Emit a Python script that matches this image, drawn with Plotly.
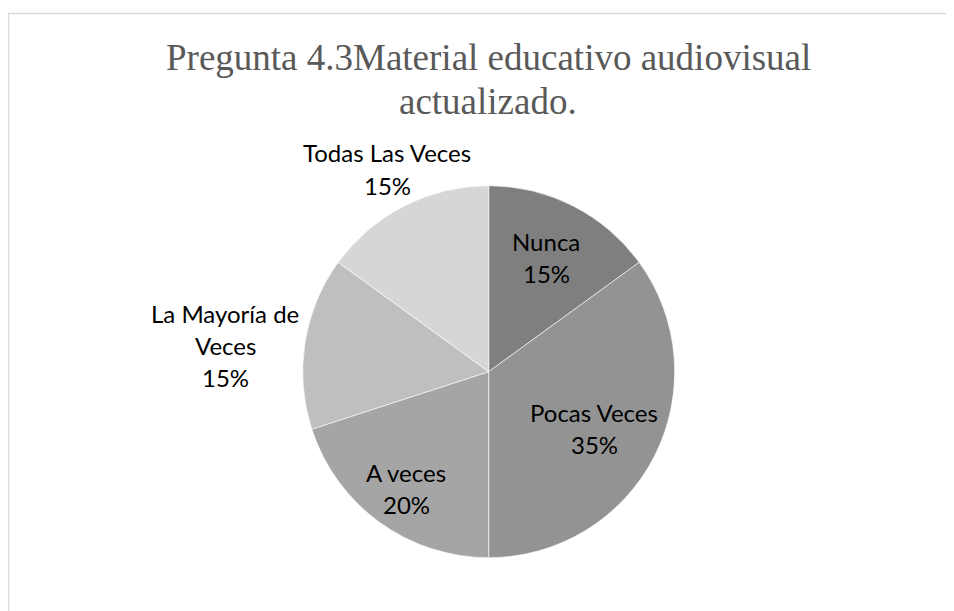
import plotly.graph_objects as go

categories = ["Nunca", "Pocas Veces", "A veces", "La Mayoría de Veces", "Todas Las Veces"]
values = [15, 35, 20, 15, 15]
colors = ["#7f7f7f", "#939393", "#a5a5a5", "#bfbfbf", "#d6d6d6"]
label_lines = [["Nunca"], ["Pocas Veces"], ["A veces"], ["La Mayoría de", "Veces"], ["Todas Las Veces"]]
title_lines = ["Pregunta 4.3Material educativo audiovisual", "actualizado."]

W, H = 954, 611
OFF = 8  # page body margin offset


def px_x(x):
    return (x - OFF) / W


def px_y(y):
    return 1 - (y - OFF) / H


fig = go.Figure(go.Pie(
    labels=categories,
    values=values,
    sort=False,
    direction="clockwise",
    rotation=0,
    marker=dict(colors=colors, line=dict(color="#ffffff", width=0.6)),
    textinfo="none",
    hoverinfo="label+percent",
    domain=dict(x=[px_x(302.7), px_x(674.7)], y=[px_y(557.7), px_y(185.7)]),
    showlegend=False,
))

total = sum(values)
label_pos = [(546, 241), (594, 412), (406, 472), (225, 313), (387, 153)]
line_gap = 32
annotations = []
for cat_lines, v, (px, py) in zip(label_lines, values, label_pos):
    lines = cat_lines + [f"{round(100 * v / total)}%"]
    for i, t in enumerate(lines):
        annotations.append(dict(
            text=t, x=px_x(px), y=px_y(py + i * line_gap), xref="paper", yref="paper",
            xanchor="center", yanchor="middle", showarrow=False,
            font=dict(family="Lato, Carlito, sans-serif", size=24, color="#000000"),
        ))

title_base = [57, 101]
for t, yb in zip(title_lines, title_base):
    annotations.append(dict(
        text=t, x=px_x(488), y=px_y(yb), xref="paper", yref="paper",
        xanchor="center", yanchor="middle", showarrow=False,
        font=dict(family="Liberation Serif, Times New Roman, serif", size=37, color="#595959"),
    ))

fig.update_layout(
    width=W, height=H,
    margin=dict(l=0, r=0, t=0, b=0),
    paper_bgcolor="#ffffff",
    plot_bgcolor="#ffffff",
    annotations=annotations,
    shapes=[dict(type="rect", xref="paper", yref="paper",
                 x0=px_x(8.5), x1=1.05, y0=-0.05, y1=px_y(13.5),
                 line=dict(color="#d9d9d9", width=1.5), fillcolor="rgba(0,0,0,0)", layer="below")],
)

fig.write_html("out.html")
